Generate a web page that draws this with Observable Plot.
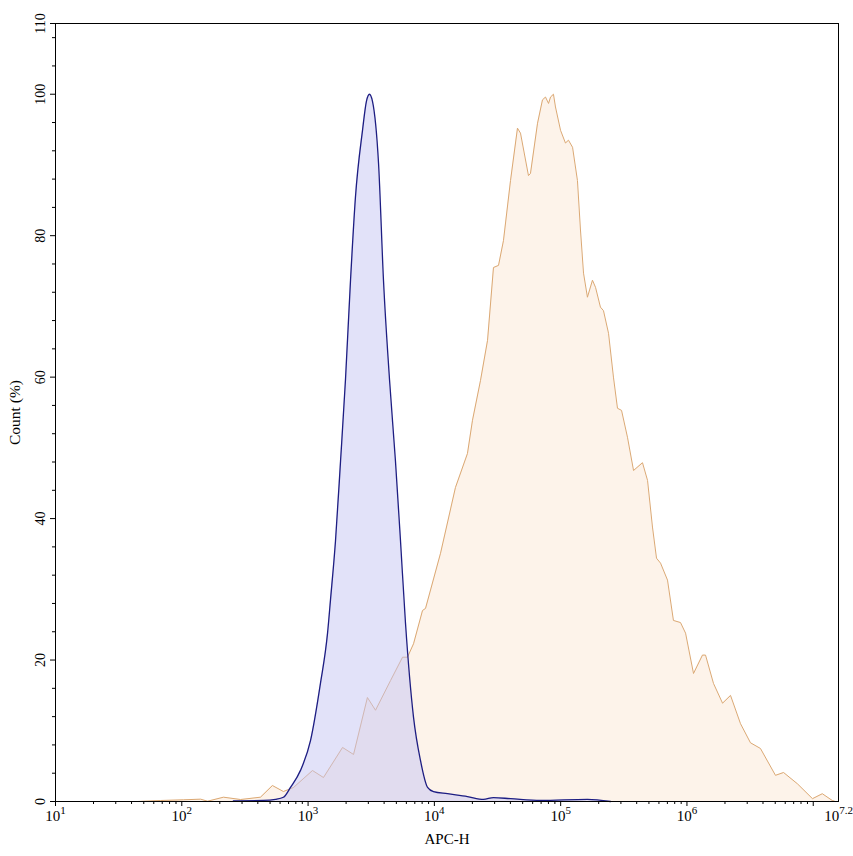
<!DOCTYPE html>
<html>
<head>
<meta charset="utf-8">
<script src="https://cdn.jsdelivr.net/npm/d3@7"></script>
<script src="https://cdn.jsdelivr.net/npm/@observablehq/plot@0.6"></script>
<style>
  html, body { margin: 0; padding: 0; background: #ffffff; }
  #chart { width: 853px; height: 856px; }
</style>
</head>
<body>
<div id="chart"></div>
<script>
// Control (blue) histogram: APC-H value, count (%)
const blueX = [256, 444, 552, 638, 726, 871, 1045, 1253, 1426, 1503, 1648, 1807, 1977, 2168, 2371, 2698, 2897, 3062, 3236, 3614, 3954, 4416, 4920, 5395, 5902, 6839, 7762, 8831, 9840, 12700, 18280, 24490, 29380, 40090, 69180, 162900, 248300];
const blueY = [0.1, 0.15, 0.3, 0.6, 2.0, 4.4, 8.6, 16.7, 23.8, 28.4, 36.8, 48.1, 59.6, 73.7, 85.4, 94.9, 99, 100, 99, 90.2, 73.7, 59.6, 48.1, 36.8, 25.3, 11.9, 5.8, 2.0, 1.4, 1.1, 0.7, 0.3, 0.55, 0.4, 0.15, 0.3, 0];

// Stained (orange) histogram
const orangeX = [44.6, 67.8, 103, 141, 160, 214, 292, 420, 522, 638, 767, 1084, 1324, 1875, 2291, 2951, 3420, 4498, 5598, 6124, 6839, 8054, 8511, 11190, 14690, 18280, 20040, 23170, 26360, 29380, 32210, 35240, 40090, 45500, 48080, 55590, 57680, 65610, 71780, 75860, 80170, 83180, 87700, 90990, 99770, 109100, 115300, 124200, 135800, 143500, 151700, 162900, 178600, 188800, 206500, 218300, 239300, 261800, 281800, 303400, 338100, 377600, 444600, 487500, 533300, 574100, 618000, 701500, 781600, 889200, 975000, 1127000, 1327000, 1403000, 1622000, 1914000, 2213000, 2655000, 3184000, 3819000, 5023000, 5821000, 7499000, 9863000, 11800000, 14160000, 14960000];
const orangeY = [0, 0.14, 0.24, 0.33, 0.04, 0.61, 0.28, 0.61, 2.26, 1.41, 1.98, 4.38, 3.39, 7.64, 6.65, 14.7, 12.9, 17.1, 20.4, 20.4, 22.3, 27.0, 27.3, 35.1, 44.4, 49.2, 53.9, 59.5, 65.2, 75.5, 75.8, 79.3, 87.8, 95.2, 94.5, 88.5, 88.8, 95.9, 99.2, 99.6, 98.7, 99.6, 100, 98.2, 94.9, 93.1, 93.5, 92.5, 87.8, 80.8, 74.7, 71.3, 73.7, 72.7, 69.9, 69.4, 66.2, 60.0, 55.6, 55.3, 51.5, 46.8, 47.9, 45.4, 38.8, 34.4, 33.7, 31.3, 25.6, 25.3, 23.8, 18.1, 20.7, 20.7, 16.7, 13.9, 15.0, 11.0, 8.3, 7.5, 3.7, 4.1, 2.5, 0.4, 1.1, 0.14, 0];

// Axis ticks and labels
const xMajor = [1e1, 1e2, 1e3, 1e4, 1e5, 1e6, 1e7];
const xLabelValues = [1e1, 1e2, 1e3, 1e4, 1e5, 1e6, Math.pow(10, 7.2)];
const xLabelExps = ["1", "2", "3", "4", "5", "6", "7.2"];
const yMajor = [0, 20, 40, 60, 80, 100, 110];
const yMinor = [4, 8, 12, 16, 24, 28, 32, 36, 44, 48, 52, 56, 64, 68, 72, 76, 84, 88, 92, 96, 104, 108];

const xMinor = [];
for (let k = 1; k <= 6; k++) for (let m = 2; m <= 9; m++) xMinor.push(m * Math.pow(10, k));

const blue = blueX.map((x, i) => ({x, y: blueY[i]}));
const orange = orangeX.map((x, i) => ({x, y: orangeY[i]}));

const FONT = "'Liberation Serif', 'Times New Roman', serif";

const plot = Plot.plot({
  width: 853,
  height: 856,
  marginLeft: 55,
  marginRight: 15,
  marginTop: 23,
  marginBottom: 55,
  style: {fontFamily: FONT, fontSize: "13px", background: "#ffffff", color: "#000"},
  x: {type: "log", domain: [10, Math.pow(10, 7.2)], axis: null},
  y: {domain: [0, 110], axis: null},
  marks: [
    Plot.areaY(orange, {x: "x", y: "y", fill: "#fdf3ea", curve: "linear"}),
    Plot.lineY(orange, {x: "x", y: "y", stroke: "#dba873", strokeWidth: 1, curve: "linear"}),
    Plot.areaY(blue, {x: "x", y: "y", fill: "#c6c6f4", fillOpacity: 0.5, curve: "monotone-x"}),
    Plot.lineY(blue, {x: "x", y: "y", stroke: "#1d1d82", strokeWidth: 1.3, curve: "monotone-x"}),
    Plot.frame({stroke: "#000", strokeWidth: 1}),
    Plot.axisX(xMajor, {tickSize: 5, tickFormat: () => "", stroke: "#000", label: null}),
    Plot.axisX(xMinor, {tickSize: 3, tickFormat: () => "", stroke: "#000", label: null}),
    Plot.axisY(yMajor, {tickSize: 5, tickFormat: () => "", stroke: "#000", label: null}),
    Plot.axisY(yMinor, {tickSize: 3, tickFormat: () => "", stroke: "#000", label: null}),
    Plot.text(yMajor, {y: d => d, text: d => String(d), frameAnchor: "left", textAnchor: "middle", dx: -15, rotate: -90, fontSize: 14, fill: "#000"}),
    Plot.text(xLabelValues, {x: d => d, text: (d, i) => xLabelExps[i], frameAnchor: "bottom", dy: 19, fontSize: 15, fill: "#000", className: "xlab"}),
    Plot.text(["APC-H"], {text: d => d, frameAnchor: "bottom", dy: 42, fontSize: 15, fill: "#000"}),
    Plot.text(["Count (%)"], {text: d => d, frameAnchor: "left", textAnchor: "middle", dx: -40, rotate: -90, fontSize: 15.5, fill: "#000"})
  ]
});

d3.select(plot).selectAll(".xlab text").each(function() {
  const exp = this.textContent;
  const t = d3.select(this);
  t.text(null);
  t.append("tspan").text("10");
  t.append("tspan").attr("dy", "-7").attr("font-size", "11").text(exp);
});

document.getElementById("chart").appendChild(plot);
</script>
</body>
</html>
